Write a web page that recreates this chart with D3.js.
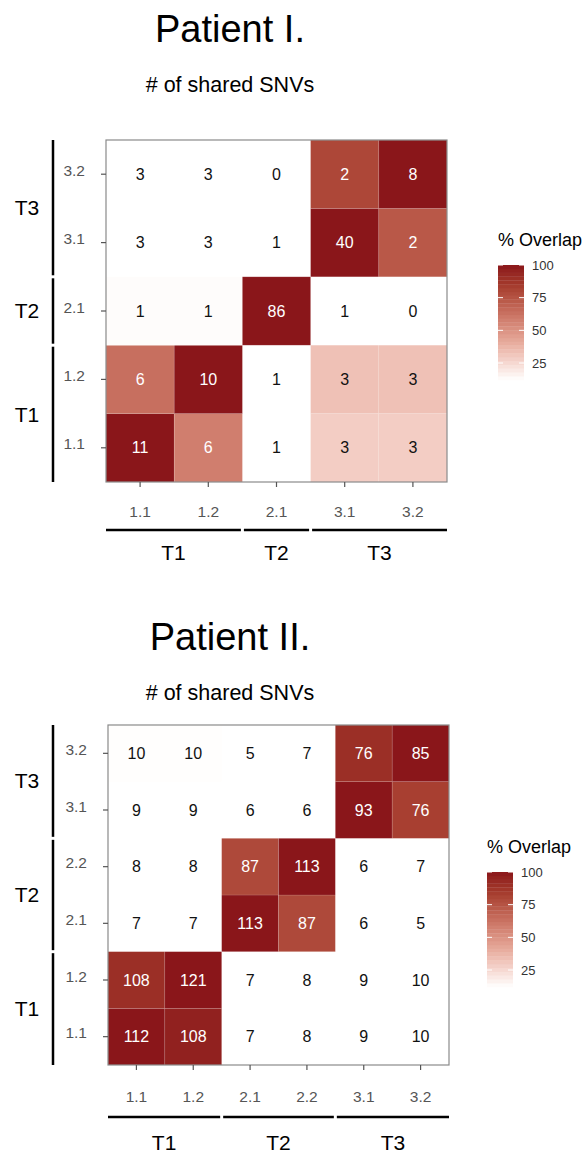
<!DOCTYPE html>
<html>
<head>
<meta charset="utf-8">
<script src="https://cdn.jsdelivr.net/npm/d3@7"></script>
<style>
  body { margin: 0; background: #fff; }
  svg { display: block; font-family: "Liberation Sans", Arial, Helvetica, sans-serif; }
</style>
</head>
<body>
<svg id="chart" width="588" height="1153"></svg>
<script>
// ====================================
// Données
// ====================================
const p1Samples = ["1.1", "1.2", "2.1", "3.1", "3.2"];
const p1SampleGroup = ["T1", "T1", "T2", "T3", "T3"];
const p1Groups = ["T1", "T2", "T3"];
// lignes = échantillon en y (de bas en haut), colonnes = échantillon en x
const p1Shared = [
    [11, 6, 1, 3, 3],
    [6, 10, 1, 3, 3],
    [1, 1, 86, 1, 0],
    [3, 3, 1, 40, 2],
    [3, 3, 0, 2, 8]
];
const p1Overlap = [
    [100, 58, null, 29, 29],
    [64, 100, null, 33, 33],
    [13, 13, 100, null, null],
    [null, null, null, 100, 73],
    [null, null, null, 80, 100]
];

const p2Samples = ["1.1", "1.2", "2.1", "2.2", "3.1", "3.2"];
const p2SampleGroup = ["T1", "T1", "T2", "T2", "T3", "T3"];
const p2Groups = ["T1", "T2", "T3"];
const p2Shared = [
    [112, 108, 7, 8, 9, 10],
    [108, 121, 7, 8, 9, 10],
    [7, 7, 113, 87, 6, 5],
    [8, 8, 87, 113, 6, 7],
    [9, 9, 6, 6, 93, 76],
    [10, 10, 5, 7, 76, 85]
];
const p2Overlap = [
    [100, 96, null, null, null, null],
    [90, 100, null, null, null, null],
    [null, null, 100, 79, null, null],
    [null, null, 79, 100, null, null],
    [null, null, null, null, 100, 83],
    [12.5, 12.5, null, null, 90, 100]
];

const legendTicks = [25, 50, 75, 100];
const overlapRange = [12, 100];
const colorStops = [12, 40, 65, 85, 100];
const colorValues = ["#ffffff", "#e8ad9f", "#c66c5c", "#a43a2c", "#8a161a"];

// ====================================
// Rendu
// ====================================
const svg = d3.select("#chart");
const color = d3.scaleLinear()
    .domain(colorStops)
    .range(colorValues)
    .interpolate(d3.interpolateLab)
    .clamp(true);

/**
 * Dessine un panneau (titre, matrice, axes groupés, légende)
 */
function drawPanel(cfg) {
    const g = svg.append("g");

    // Titres
    g.append("text")
        .attr("x", cfg.titleX).attr("y", cfg.titleY)
        .attr("text-anchor", "middle")
        .style("font-size", "38px")
        .text(cfg.title);
    g.append("text")
        .attr("x", cfg.titleX).attr("y", cfg.titleY + 50)
        .attr("text-anchor", "middle")
        .style("font-size", "21.5px")
        .text("# of shared SNVs");

    const x = d3.scaleBand().domain(cfg.samples).range([cfg.left, cfg.left + cfg.width]);
    const y = d3.scaleBand().domain(cfg.samples).range([cfg.top + cfg.height, cfg.top]);

    // Cellules
    const cells = [];
    cfg.shared.forEach((row, i) => row.forEach((v, j) => {
        cells.push({ ys: cfg.samples[i], xs: cfg.samples[j], n: v, pct: cfg.overlap[i][j] });
    }));

    g.append("rect")
        .attr("x", cfg.left).attr("y", cfg.top)
        .attr("width", cfg.width).attr("height", cfg.height)
        .attr("fill", "#fff");

    g.selectAll("rect.cell")
        .data(cells.filter(d => d.pct !== null))
        .join("rect")
        .attr("class", "cell")
        .attr("x", d => x(d.xs)).attr("y", d => y(d.ys))
        .attr("width", x.bandwidth()).attr("height", y.bandwidth())
        .attr("fill", d => color(d.pct))
        .attr("stroke", "#fff").attr("stroke-opacity", 0.2).attr("stroke-width", 0.6);

    g.selectAll("text.val")
        .data(cells)
        .join("text")
        .attr("class", "val")
        .attr("x", d => x(d.xs) + x.bandwidth() / 2)
        .attr("y", d => y(d.ys) + y.bandwidth() / 2)
        .attr("dy", "0.35em")
        .attr("text-anchor", "middle")
        .style("font-size", "16px")
        .style("fill", d => d.pct !== null && d.pct >= 45 ? "#fff" : "#111")
        .text(d => d.n);

    // Cadre
    g.append("rect")
        .attr("x", cfg.left).attr("y", cfg.top)
        .attr("width", cfg.width).attr("height", cfg.height)
        .attr("fill", "none").attr("stroke", "#8a8a8a").attr("stroke-width", 1.2);

    // Axes
    const xAxis = g.append("g")
        .attr("transform", `translate(0,${cfg.top + cfg.height})`)
        .call(d3.axisBottom(x).tickSize(5).tickPadding(0).tickFormat(""));
    const yAxis = g.append("g")
        .attr("transform", `translate(${cfg.left},0)`)
        .call(d3.axisLeft(y).tickSize(5).tickPadding(0).tickFormat(""));
    [xAxis, yAxis].forEach(a => {
        a.select(".domain").remove();
        a.selectAll("line").attr("stroke", "#555").attr("stroke-width", 1.2);
    });

    g.selectAll("text.xtick")
        .data(cfg.samples)
        .join("text")
        .attr("class", "xtick")
        .attr("x", d => x(d) + x.bandwidth() / 2)
        .attr("y", cfg.top + cfg.height + cfg.xLabelOff)
        .attr("dy", "0.35em")
        .attr("text-anchor", "middle")
        .style("font-size", "15.5px").style("fill", "#555")
        .text(d => d);

    g.selectAll("text.ytick")
        .data(cfg.samples)
        .join("text")
        .attr("class", "ytick")
        .attr("x", cfg.left - 21)
        .attr("y", d => y(d) + y.bandwidth() / 2)
        .attr("dy", "0.1em")
        .attr("text-anchor", "end")
        .style("font-size", "15.5px").style("fill", "#555")
        .text(d => d);

    // Crochets de groupes
    const spans = cfg.groups.map((grp, k) => {
        const members = cfg.samples.filter((s, i) => cfg.sampleGroup[i] === grp);
        return { grp, first: members[0], last: members[members.length - 1], k };
    });
    const inset = 1.5;
    const nG = spans.length;

    spans.forEach(s => {
        const x0 = x(s.first) + (s.k > 0 ? inset : 0);
        const x1 = x(s.last) + x.bandwidth() - (s.k < nG - 1 ? inset : 0);
        g.append("line")
            .attr("x1", x0).attr("x2", x1)
            .attr("y1", cfg.top + cfg.height + cfg.xBracketOff)
            .attr("y2", cfg.top + cfg.height + cfg.xBracketOff)
            .attr("stroke", "#000").attr("stroke-width", 2.5);
        g.append("text")
            .attr("x", (x0 + x1) / 2)
            .attr("y", cfg.top + cfg.height + cfg.xGroupOff)
            .attr("dy", "0.35em")
            .attr("text-anchor", "middle")
            .style("font-size", "21px")
            .text(s.grp);

        const y0 = y(s.first) + y.bandwidth() - (s.k > 0 ? inset : 0);
        const y1 = y(s.last) + (s.k < nG - 1 ? inset : 0);
        g.append("line")
            .attr("x1", 53).attr("x2", 53)
            .attr("y1", y0).attr("y2", y1)
            .attr("stroke", "#000").attr("stroke-width", 2.5);
        g.append("text")
            .attr("x", 27)
            .attr("y", (y0 + y1) / 2)
            .attr("dy", "0.35em")
            .attr("text-anchor", "middle")
            .style("font-size", "21px")
            .text(s.grp);
    });

    // Légende
    const lg = svg.append("g");
    const ly = d3.scaleLinear().domain(overlapRange).range([cfg.legTop + 115, cfg.legTop]);
    const bw = 26;
    lg.append("text")
        .attr("x", cfg.legX).attr("y", cfg.legTop - 19)
        .style("font-size", "18px")
        .text("% Overlap");
    const bins = d3.range(30).map(i => overlapRange[0] + (overlapRange[1] - overlapRange[0]) * i / 30);
    const step = (overlapRange[1] - overlapRange[0]) / 30;
    lg.selectAll("rect.bin")
        .data(bins)
        .join("rect")
        .attr("class", "bin")
        .attr("x", cfg.legX)
        .attr("y", d => ly(d + step))
        .attr("width", bw)
        .attr("height", d => ly(d) - ly(d + step) + 0.3)
        .attr("fill", d => color(d + step / 2));
    legendTicks.forEach(t => {
        [[cfg.legX, cfg.legX + 5], [cfg.legX + bw - 5, cfg.legX + bw]].forEach(([a, b]) => {
            lg.append("line")
                .attr("x1", a).attr("x2", b)
                .attr("y1", ly(t)).attr("y2", ly(t))
                .attr("stroke", "#fff").attr("stroke-width", 1);
        });
    });
    lg.selectAll("text.lt")
        .data(legendTicks)
        .join("text")
        .attr("class", "lt")
        .attr("x", cfg.legX + bw + 8)
        .attr("y", d => ly(d))
        .attr("dy", "0.35em")
        .style("font-size", "13px").style("fill", "#333")
        .text(d => d);
}

drawPanel({
    title: "Patient I.", titleX: 230, titleY: 42,
    samples: p1Samples, sampleGroup: p1SampleGroup, groups: p1Groups,
    shared: p1Shared, overlap: p1Overlap,
    left: 106, top: 140, width: 341, height: 342,
    xLabelOff: 30, xBracketOff: 48, xGroupOff: 71,
    legX: 498, legTop: 265
});

drawPanel({
    title: "Patient II.", titleX: 230, titleY: 650,
    samples: p2Samples, sampleGroup: p2SampleGroup, groups: p2Groups,
    shared: p2Shared, overlap: p2Overlap,
    left: 108, top: 725, width: 341, height: 340,
    xLabelOff: 32, xBracketOff: 52, xGroupOff: 78,
    legX: 487, legTop: 872
});
</script>
</body>
</html>
